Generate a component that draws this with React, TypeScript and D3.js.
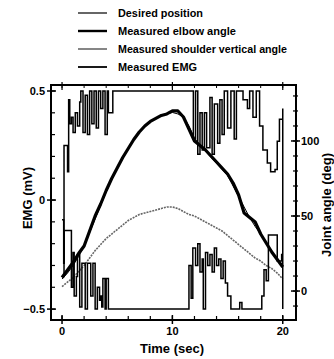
import React from "react";
import * as d3 from "d3";

// ---- data (time in sec) ----
const angleTimes = [0, 0.5, 1, 1.5, 2, 2.5, 3, 3.5, 4, 4.5, 5, 5.5, 6, 6.5, 7, 7.5, 8, 8.5, 9, 9.5, 10, 10.5, 11, 11.5, 12, 12.5, 13, 13.5, 14, 14.5, 15, 15.5, 16, 16.5, 17, 17.5, 18, 18.5, 19, 19.5, 20];
const desiredPosition = [8, 12, 17, 23, 30, 39, 48, 57, 66, 74, 82, 89, 95, 101, 106, 110, 113, 115, 117, 118, 119, 118, 116, 110, 102, 97, 93, 89, 85, 81, 77, 70, 63, 56, 49, 43, 38, 32, 27, 21, 16];
const elbowAngle = [9, 14, 19, 25, 30, 40, 50, 58, 67, 75, 82, 89, 95, 101, 106, 110, 113, 115, 117, 118, 120, 120, 116, 108, 100, 97, 94, 90, 86, 82, 78, 72, 64, 52, 49, 46, 38, 32, 26, 21, 16];
const shoulderAngle = [3, 6, 9, 13, 17, 22, 27, 31, 35, 38, 41, 44, 47, 49, 51, 52, 53, 54, 55, 56, 56, 55, 53, 51, 50, 48, 46, 44, 42, 40, 37, 34, 31, 28, 25, 22, 20, 17, 15, 12, 8];

const emgUpperTimes = [0, 0.15, 0.18, 0.45, 0.5, 0.6, 0.7, 0.85, 1.0, 1.2, 1.4, 1.6, 1.7, 1.9, 2.1, 2.3, 2.5, 2.7, 2.9, 3.1, 3.3, 3.5, 3.7, 3.9, 4.1, 4.2, 4.5, 4.6, 11.85, 11.9, 12.1, 12.3, 12.5, 12.7, 12.9, 13.1, 13.4, 13.6, 13.8, 14.1, 14.3, 14.5, 14.7, 15.0, 15.3, 15.6, 15.8, 16.2, 16.4, 16.8, 17.0, 17.3, 17.6, 17.9, 18.2, 18.6, 18.9, 19.3, 19.5, 19.7, 20.0, 20.0];
const emgUpperValues = [-0.35, -0.35, 0.25, 0.25, 0.13, 0.46, 0.35, 0.38, 0.31, 0.4, 0.34, 0.45, 0.5, 0.31, 0.48, 0.3, 0.5, 0.35, 0.5, 0.33, 0.5, 0.42, 0.5, 0.3, 0.5, 0.4, 0.4, 0.5, 0.5, 0.28, 0.5, 0.21, 0.4, 0.23, 0.4, 0.24, 0.47, 0.21, 0.44, 0.26, 0.46, 0.3, 0.5, 0.33, 0.5, 0.28, 0.5, 0.5, 0.46, 0.42, 0.5, 0.38, 0.5, 0.34, 0.23, 0.17, 0.13, 0.14, 0.27, 0.37, 0.42, -0.5];

const emgLowerTimes = [0, 0.15, 0.2, 0.8, 0.85, 1.0, 1.1, 1.3, 1.4, 1.6, 1.8, 2.1, 2.3, 2.6, 2.8, 3.0, 3.2, 3.4, 3.5, 3.6, 3.7, 3.9, 4.0, 4.2, 11.4, 11.5, 11.7, 11.85, 12.1, 12.3, 12.5, 12.7, 12.8, 13.0, 13.2, 13.4, 13.6, 13.8, 14.0, 14.2, 14.4, 14.6, 14.8, 15.0, 15.3, 16.0, 16.1, 16.3, 17.9, 18.1, 18.3, 18.5, 18.7, 19.3, 19.5, 19.9, 20.0];
const emgLowerValues = [-0.09, -0.29, -0.14, -0.14, -0.4, -0.24, -0.44, -0.35, -0.25, -0.49, -0.29, -0.5, -0.29, -0.44, -0.29, -0.5, -0.4, -0.46, -0.44, -0.49, -0.36, -0.5, -0.36, -0.5, -0.5, -0.3, -0.45, -0.22, -0.3, -0.2, -0.33, -0.27, -0.5, -0.24, -0.3, -0.25, -0.33, -0.22, -0.3, -0.27, -0.36, -0.28, -0.38, -0.44, -0.5, -0.5, -0.47, -0.5, -0.5, -0.44, -0.32, -0.37, -0.16, -0.16, -0.28, -0.25, -0.25];

const legendLabels = ["Desired position", "Measured elbow angle", "Measured shoulder vertical angle", "Measured EMG"];
const legendWidths = [85, 118, 169, 79];
const emgTicks = [-0.5, 0, 0.5];
const angleTicks = [0, 50, 100];
const timeTicks = [0, 10, 20];

const W = 334;
const H = 359;
const plot = { left: 51, right: 296, top: 85, bottom: 320 };
const FONT = "'Liberation Sans', Arial, sans-serif";

export default function App() {
  const x = d3.scaleLinear().domain([-1, 21.2]).range([plot.left, plot.right]);
  const yL = d3.scaleLinear().domain([-0.55, 0.5275]).range([plot.bottom, plot.top]);
  const yR = d3.scaleLinear().domain([-19.3, 137.3]).range([plot.bottom, plot.top]);

  const angleLine = (vals: number[]) =>
    d3.line<number>().x((_, i) => x(angleTimes[i])).y((d) => yR(d))(vals) || "";
  const emgLine = (ts: number[], vs: number[]) =>
    d3.line<number>().curve(d3.curveStepAfter).x((_, i) => x(ts[i])).y((d) => yL(d))(vs) || "";

  const minorEmg = d3.range(-5, 6).map((k) => k / 10);
  const minorTime = d3.range(0, 21, 2);
  const minorAngle = d3.range(-10, 131, 10);

  const legendStyles = [
    { stroke: "#000", width: 1.2, dash: "" },
    { stroke: "#000", width: 2.4, dash: "" },
    { stroke: "#444", width: 1.3, dash: "" },
    { stroke: "#000", width: 1.8, dash: "" },
  ];

  return (
    <svg width={W} height={H} style={{ display: "block", position: "absolute", left: 0, top: 0, background: "#fff" }}>
      <rect x={0} y={0} width={W} height={H} fill="#fff" />
      {/* legend */}
      {legendLabels.map((lab, i) => {
        const yy = 13 + i * 18;
        const st = legendStyles[i];
        return (
          <g key={lab}>
            <line x1={78} x2={107} y1={yy} y2={yy} stroke={st.stroke} strokeWidth={st.width} strokeDasharray={st.dash} />
            <text x={118} y={yy + 3.5} fontFamily={FONT} fontWeight="bold" fontSize={10} fill="#000" textLength={legendWidths[i]} lengthAdjust="spacingAndGlyphs">{lab}</text>
          </g>
        );
      })}

      {/* data */}
      <path d={angleLine(shoulderAngle)} fill="none" stroke="#666" strokeWidth={1.6} strokeDasharray="2,1" />
      <path d={emgLine(emgUpperTimes, emgUpperValues)} fill="none" stroke="#000" strokeWidth={1.5} />
      <path d={emgLine(emgLowerTimes, emgLowerValues)} fill="none" stroke="#000" strokeWidth={1.5} />
      <path d={angleLine(desiredPosition)} fill="none" stroke="#000" strokeWidth={1} />
      <path d={angleLine(elbowAngle)} fill="none" stroke="#000" strokeWidth={3.2} strokeLinejoin="round" />

      {/* frame */}
      <rect x={plot.left} y={plot.top} width={plot.right - plot.left} height={plot.bottom - plot.top} fill="none" stroke="#000" strokeWidth={2} />

      {/* left axis ticks */}
      {minorEmg.map((v) => (
        <line key={"le" + v} x1={plot.left} x2={plot.left + 4} y1={yL(v)} y2={yL(v)} stroke="#000" strokeWidth={1.2} />
      ))}
      {emgTicks.map((v) => (
        <g key={"lt" + v}>
          <line x1={plot.left - 4} x2={plot.left + 5} y1={yL(v)} y2={yL(v)} stroke="#000" strokeWidth={1.5} />
          <text x={plot.left - 6} y={yL(v) + 4} textAnchor="end" fontFamily={FONT} fontWeight="bold" fontSize={11} fill="#000">
            {v === 0 ? "0" : v > 0 ? "0.5" : "\u22120.5"}
          </text>
        </g>
      ))}

      {/* right axis ticks */}
      {minorAngle.map((v) => (
        <line key={"ra" + v} x1={plot.right - 3} x2={plot.right + 2} y1={yR(v)} y2={yR(v)} stroke="#000" strokeWidth={1.2} />
      ))}
      {angleTicks.map((v) => (
        <g key={"rt" + v}>
          <line x1={plot.right - 5} x2={plot.right + 4} y1={yR(v)} y2={yR(v)} stroke="#000" strokeWidth={1.5} />
          <text x={plot.right + 5} y={yR(v) + 4} textAnchor="start" fontFamily={FONT} fontWeight="bold" fontSize={11} fill="#000">{v}</text>
        </g>
      ))}

      {/* bottom & top ticks */}
      {minorTime.map((t) => (
        <g key={"bt" + t}>
          <line x1={x(t)} x2={x(t)} y1={plot.bottom} y2={plot.bottom - 4} stroke="#000" strokeWidth={1.2} />
          <line x1={x(t)} x2={x(t)} y1={plot.top} y2={plot.top + 3} stroke="#000" strokeWidth={1} />
        </g>
      ))}
      {timeTicks.map((t) => (
        <g key={"tt" + t}>
          <line x1={x(t)} x2={x(t)} y1={plot.bottom + 4} y2={plot.bottom - 5} stroke="#000" strokeWidth={1.5} />
          <line x1={x(t)} x2={x(t)} y1={plot.top - 3} y2={plot.top + 5} stroke="#000" strokeWidth={1.2} />
          <text x={x(t)} y={plot.bottom + 15} textAnchor="middle" fontFamily={FONT} fontWeight="bold" fontSize={11} fill="#000">{t}</text>
        </g>
      ))}

      {/* axis titles */}
      <text x={172} y={353} textAnchor="middle" fontFamily={FONT} fontWeight="bold" fontSize={13} fill="#000">Time (sec)</text>
      <text transform={`translate(32,198) rotate(-90)`} textAnchor="middle" fontFamily={FONT} fontWeight="bold" fontSize={13} fill="#000">EMG (mV)</text>
      <text transform={`translate(331,205) rotate(-90)`} textAnchor="middle" fontFamily={FONT} fontWeight="bold" fontSize={13} fill="#000">Joint angle (deg)</text>
    </svg>
  );
}
